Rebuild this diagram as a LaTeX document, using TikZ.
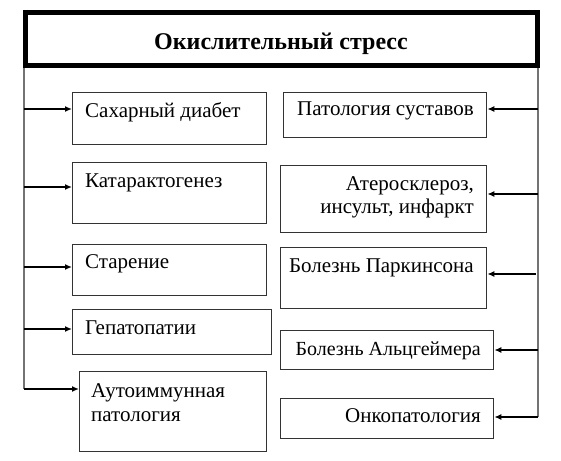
\documentclass[tikz,border=0pt]{standalone}
\usepackage{fontspec}
\setmainfont{Liberation Serif}
\usetikzlibrary{arrows.meta}
\begin{document}
\begin{tikzpicture}[x=1pt,y=-1pt,
  boxst/.style={draw=black!80, line width=1.3pt},
  titlest/.style={draw=black, line width=5pt},
  vline/.style={draw=black!55, line width=1.1pt},
  arr/.style={draw=black, line width=1.5pt, -{Latex[length=7pt,width=6pt]}},
  txt/.style={inner sep=0pt, font=\fontsize{21}{25}\selectfont},
  ttl/.style={inner sep=0pt, font=\fontsize{24}{28}\selectfont\bfseries}]
\useasboundingbox (0,0) rectangle (561,460);
\fill[white] (0,0) rectangle (561,460);
% title
\draw[titlest] (25.5,12.5) rectangle (537.5,65.5);
\node[ttl, anchor=base] (title) at (281,49) {Окислительный стресс};
\coordinate (Ltop) at (24,68);
\coordinate (Rtop) at (538,68);
% left boxes
\node[boxst, anchor=north west, minimum width=194pt, minimum height=52pt] (L1) at (72,92) {};
\node[boxst, anchor=north west, minimum width=194pt, minimum height=61pt] (L2) at (72,162) {};
\node[boxst, anchor=north west, minimum width=194pt, minimum height=51pt] (L3) at (72,244) {};
\node[boxst, anchor=north west, minimum width=199pt, minimum height=45pt] (L4) at (72,309) {};
\node[boxst, anchor=north west, minimum width=187pt, minimum height=80pt] (L5) at (79,371) {};
% right boxes
\node[boxst, anchor=north west, minimum width=203pt, minimum height=45pt] (R1) at (283,92) {};
\node[boxst, anchor=north west, minimum width=206pt, minimum height=67pt] (R2) at (280,165) {};
\node[boxst, anchor=north west, minimum width=206pt, minimum height=61pt] (R3) at (280,247) {};
\node[boxst, anchor=north west, minimum width=213pt, minimum height=39pt] (R4) at (280,330) {};
\node[boxst, anchor=north west, minimum width=213pt, minimum height=40pt] (R5) at (280,398) {};
% texts
\node[txt, anchor=base west] (t1) at (85,117) {Сахарный диабет};
\node[txt, anchor=base west] (t2) at (85,187) {Катарактогенез};
\node[txt, anchor=base west] (t3) at (85,268) {Старение};
\node[txt, anchor=base west] (t4) at (85,334) {Гепатопатии};
\node[txt, anchor=base west] (t5a) at (91,397.5) {Аутоиммунная};
\node[txt, anchor=base west] (t5b) at (91,421.5) {патология};
\node[txt, anchor=base east] (s1) at (474,115) {Патология суставов};
\node[txt, anchor=base east] (s2a) at (474,190) {Атеросклероз,};
\node[txt, anchor=base east] (s2b) at (474,213.5) {инсульт, инфаркт};
\node[txt, anchor=base east] (s3) at (474,272) {Болезнь Паркинсона};
\node[txt, anchor=base east, font=\fontsize{20}{24}\selectfont] (s4) at (481,355) {Болезнь Альцгеймера};
\node[txt, anchor=base east] (s5) at (481,422) {Онкопатология};
% side lines
\coordinate (a1) at (24,109);
\coordinate (a2) at (24,187);
\coordinate (a3) at (24,267);
\coordinate (a4) at (24,329);
\coordinate (a5) at (24,389);
\coordinate (b1) at (538,109);
\coordinate (b2) at (538,194);
\coordinate (b3) at (536,274);
\coordinate (b4) at (538,350);
\coordinate (b5) at (538,417);
\draw[vline] (Ltop) -- (a5);
\draw[vline] (Rtop) -- (b5);
\draw[arr] (a1) -- (a1 -| L1.west);
\draw[arr] (a2) -- (a2 -| L2.west);
\draw[arr] (a3) -- (a3 -| L3.west);
\draw[arr] (a4) -- (a4 -| L4.west);
\draw[arr] (a5) -- (a5 -| L5.west);
\draw[arr] (b1) -- (b1 -| R1.east);
\draw[arr] (b2) -- (b2 -| R2.east);
\draw[arr] (b3) -- (b3 -| R3.east);
\draw[arr] (b4) -- (b4 -| R4.east);
\draw[arr] (b5) -- (b5 -| R5.east);
\end{tikzpicture}
\end{document}
